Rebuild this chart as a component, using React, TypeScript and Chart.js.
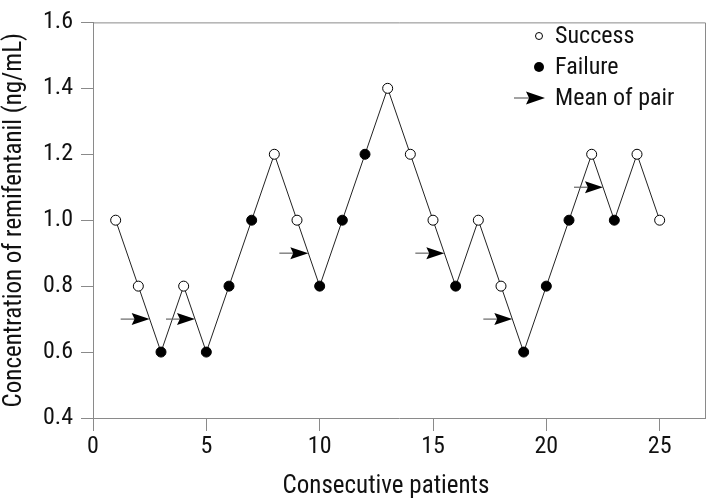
import React, { useEffect, useRef } from 'react';
import { Chart, registerables } from 'chart.js';

Chart.register(...registerables);

// ---- data ----
const patients = [1, 2, 3, 4, 5, 6, 7, 8, 9, 10, 11, 12, 13, 14, 15, 16, 17, 18, 19, 20, 21, 22, 23, 24, 25];
const concentrations = [1.0, 0.8, 0.6, 0.8, 0.6, 0.8, 1.0, 1.2, 1.0, 0.8, 1.0, 1.2, 1.4, 1.2, 1.0, 0.8, 1.0, 0.8, 0.6, 0.8, 1.0, 1.2, 1.0, 1.2, 1.0];
const outcomes = ['S', 'S', 'F', 'S', 'F', 'F', 'F', 'S', 'S', 'F', 'F', 'F', 'S', 'S', 'S', 'F', 'S', 'S', 'F', 'F', 'F', 'S', 'F', 'S', 'S'];
const pairMidpoints = [2.5, 4.5, 9.5, 15.5, 18.5, 22.5];
const pairMeans = [0.7, 0.7, 0.9, 0.9, 0.7, 1.1];
const xTicks = [0, 5, 10, 15, 20, 25];
const yTicks = [0.4, 0.6, 0.8, 1.0, 1.2, 1.4, 1.6];
const legendLabels = ['Success', 'Failure', 'Mean of pair'];
const xTitle = 'Consecutive patients';
const yTitle = 'Concentration of remifentanil (ng/mL)';

const FONT = "'Liberation Sans Narrow', 'Roboto Condensed', 'Arial Narrow', 'Liberation Sans', sans-serif";
const AXIS_COLOR = '#8a8a8a';
const TEXT_COLOR = '#111';

function drawArrow(ctx: CanvasRenderingContext2D, tipX: number, y: number, total: number, head: number, half: number) {
  ctx.save();
  ctx.strokeStyle = '#666';
  ctx.lineWidth = 1.2;
  ctx.beginPath();
  ctx.moveTo(tipX - total, y);
  ctx.lineTo(tipX - head * 0.8, y);
  ctx.stroke();
  ctx.fillStyle = '#000';
  ctx.beginPath();
  ctx.moveTo(tipX, y);
  ctx.lineTo(tipX - head, y - half);
  ctx.lineTo(tipX - head * 0.84, y);
  ctx.lineTo(tipX - head, y + half);
  ctx.closePath();
  ctx.fill();
  ctx.restore();
}

const decorPlugin = {
  id: 'decor',
  afterDatasetsDraw(chart: any) {
    const ctx: CanvasRenderingContext2D = chart.ctx;
    // arrows for mean of pair
    const meta = chart.getDatasetMeta(1);
    meta.data.forEach((el: any) => {
      drawArrow(ctx, el.x, el.y, 29, 18, 6);
    });
  },
  afterDraw(chart: any) {
    const ctx: CanvasRenderingContext2D = chart.ctx;
    const ca = chart.chartArea;
    ctx.save();
    // top & right frame
    ctx.strokeStyle = AXIS_COLOR;
    ctx.lineWidth = 1;
    ctx.beginPath();
    ctx.moveTo(ca.left, ca.top + 0.5);
    ctx.lineTo(ca.right + 0.5, ca.top + 0.5);
    ctx.lineTo(ca.right + 0.5, ca.bottom);
    ctx.stroke();

    // legend
    ctx.font = `24px ${FONT}`;
    ctx.textBaseline = 'middle';
    ctx.textAlign = 'left';
    const lx = 539;
    const tx = 555;
    const rows = [36, 67, 98];
    // success
    ctx.beginPath();
    ctx.arc(lx, rows[0], 3.5, 0, Math.PI * 2);
    ctx.fillStyle = '#fff';
    ctx.fill();
    ctx.strokeStyle = '#000';
    ctx.lineWidth = 1;
    ctx.stroke();
    // failure
    ctx.beginPath();
    ctx.arc(lx, rows[1], 5, 0, Math.PI * 2);
    ctx.fillStyle = '#000';
    ctx.fill();
    // arrow
    drawArrow(ctx, 545, rows[2], 31, 19, 6.5);
    ctx.fillStyle = TEXT_COLOR;
    legendLabels.forEach((t, i) => ctx.fillText(t, tx, rows[i] + 1));

    // x-axis title
    ctx.font = `25px ${FONT}`;
    ctx.textAlign = 'center';
    ctx.textBaseline = 'alphabetic';
    ctx.fillText(xTitle, 386, 493);
    ctx.restore();
  },
};

export default function App() {
  const ref = useRef<HTMLCanvasElement | null>(null);

  useEffect(() => {
    if (!ref.current) return;
    const chart = new Chart(ref.current, {
      type: 'line',
      data: {
        datasets: [
          {
            label: 'Concentration',
            data: patients.map((p, i) => ({ x: p, y: concentrations[i] })),
            borderColor: '#222',
            borderWidth: 1,
            pointRadius: 5,
            pointBorderWidth: 1,
            pointBorderColor: '#000',
            pointBackgroundColor: outcomes.map((o) => (o === 'S' ? '#fff' : '#000')),
            pointHoverRadius: 5,
            tension: 0,
            fill: false,
          },
          {
            label: 'Mean of pair',
            type: 'scatter',
            data: pairMidpoints.map((x, i) => ({ x, y: pairMeans[i] })),
            pointRadius: 0,
            showLine: false,
          } as any,
        ],
      },
      plugins: [decorPlugin],
      options: {
        responsive: false,
        animation: false,
        layout: { padding: { left: 0, top: 14, right: 5, bottom: 0 } },
        plugins: {
          legend: { display: false },
          tooltip: { enabled: false },
        },
        scales: {
          x: {
            type: 'linear',
            min: 0,
            max: 27,
            afterFit: (s: any) => { s.height = 85; },
            afterBuildTicks: (s: any) => { s.ticks = xTicks.map((v) => ({ value: v })); },
            grid: { drawOnChartArea: false, drawTicks: true, tickLength: 13, color: AXIS_COLOR, lineWidth: 1 },
            border: { display: true, color: AXIS_COLOR, width: 1 },
            ticks: {
              color: TEXT_COLOR,
              font: { family: FONT, size: 24 },
              padding: 2,
              maxRotation: 0,
              callback: (v: any) => String(v),
            },
            title: { display: false, text: xTitle },
          },
          y: {
            type: 'linear',
            min: 0.4,
            max: 1.6,
            afterFit: (s: any) => { s.width = 93; },
            afterBuildTicks: (s: any) => { s.ticks = yTicks.map((v) => ({ value: v })); },
            grid: { drawOnChartArea: false, drawTicks: true, tickLength: 12, color: AXIS_COLOR, lineWidth: 1 },
            border: { display: true, color: AXIS_COLOR, width: 1 },
            ticks: {
              color: TEXT_COLOR,
              font: { family: FONT, size: 24 },
              padding: 8,
              callback: (v: any) => Number(v).toFixed(1),
            },
            title: {
              display: true,
              text: yTitle,
              color: TEXT_COLOR,
              font: { family: FONT, size: 25 },
              padding: { top: 0, bottom: 0 },
            },
          },
        },
      },
    });
    return () => chart.destroy();
  }, []);

  return (
    <div style={{ position: 'absolute', left: 0, top: 0, width: 711, height: 503, background: '#fff' }}>
      <canvas ref={ref} width={711} height={503} />
    </div>
  );
}
